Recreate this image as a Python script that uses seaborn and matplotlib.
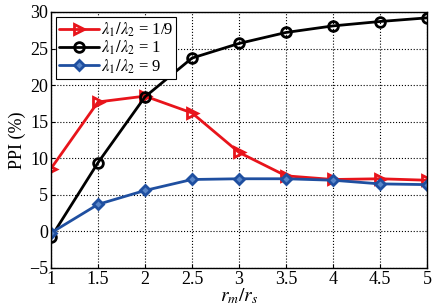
import pandas as pd
import seaborn as sns
import matplotlib.pyplot as plt

ratio = [1, 1.5, 2, 2.5, 3, 3.5, 4, 4.5, 5]
ppi_1_9 = [8.6, 17.7, 18.5, 16.2, 10.8, 7.6, 7.1, 7.2, 7.0]
ppi_1 = [-0.8, 9.4, 18.4, 23.7, 25.7, 27.2, 28.1, 28.7, 29.2]
ppi_9 = [-0.2, 3.7, 5.6, 7.1, 7.2, 7.2, 7.0, 6.5, 6.4]
labels = [r"$\lambda_1/\lambda_2$ = 1/9", r"$\lambda_1/\lambda_2$ = 1", r"$\lambda_1/\lambda_2$ = 9"]


def makePlot():
    df = pd.DataFrame({"x": ratio * 3,
                       "ppi": ppi_1_9 + ppi_1 + ppi_9,
                       "case": [labels[0]] * 9 + [labels[1]] * 9 + [labels[2]] * 9})

    sns.set_style("ticks")
    plt.rcParams["font.family"] = ["Liberation Serif", "DejaVu Serif"]
    plt.rcParams["mathtext.fontset"] = "stix"
    plt.rcParams["text.color"] = "black"
    plt.rcParams["axes.labelcolor"] = "black"
    plt.rcParams["xtick.color"] = "black"
    plt.rcParams["ytick.color"] = "black"

    fig = plt.figure(figsize=(4.36, 3.06), dpi=100)
    ax = fig.add_axes([51 / 436, 38 / 306, 376 / 436, 256 / 306])

    styles = {labels[0]: dict(color="#e8141b", marker=">", mfc="none"),
              labels[1]: dict(color="black", marker="o", mfc="none"),
              labels[2]: dict(color="#1f4fa0", marker="D", mfc="#5a86c8")}
    for lab in labels:
        sub = df[df["case"] == lab]
        st = styles[lab]
        sns.lineplot(data=sub, x="x", y="ppi", ax=ax, color=st["color"], linewidth=2,
                     marker=st["marker"], markersize=7 if st["marker"] != "D" else 5,
                     markerfacecolor=st["mfc"], markeredgecolor=st["color"],
                     markeredgewidth=2, label=lab)

    ax.set_xlim(1, 5)
    ax.set_ylim(-5, 30)
    ax.set_xticks(ratio)
    ax.set_xticklabels(["1", "1.5", "2", "2.5", "3", "3.5", "4", "4.5", "5"])
    ax.set_yticks(range(-5, 31, 5))
    ax.set_yticklabels(["\u22125"] + [str(v) for v in range(0, 31, 5)])
    ax.grid(True, linestyle=":", color="black", linewidth=0.8)
    ax.tick_params(direction="in", labelsize=13, length=3, pad=2)
    for s in ax.spines.values():
        s.set_linewidth(1.0)
        s.set_color("black")
    ax.set_xlabel(r"$r_m/r_s$", fontsize=14, labelpad=-1)
    ax.set_ylabel("PPI (%)", fontsize=13, labelpad=2)

    leg = ax.legend(loc="upper left", fontsize=12, frameon=True, fancybox=False,
                    handlelength=2.4, borderpad=0.2, labelspacing=0.0,
                    handletextpad=0.1, borderaxespad=0.3)
    leg.get_frame().set_edgecolor("black")
    leg.get_frame().set_linewidth(0.8)
    leg.get_frame().set_alpha(1)

    plt.savefig("out.png", dpi=100)


if __name__ == "__main__":
    makePlot()
